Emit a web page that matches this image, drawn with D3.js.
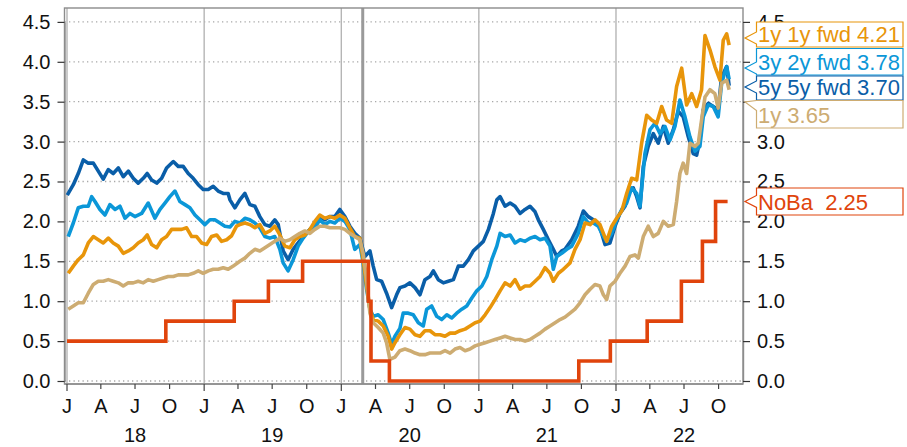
<!DOCTYPE html>
<html><head><meta charset="utf-8">
<script src="https://cdn.jsdelivr.net/npm/d3@7"></script>
<style>
html,body{margin:0;padding:0;background:#fff;}
svg{display:block;font-family:"Liberation Sans",Arial,sans-serif;}
</style></head>
<body><svg id="c" width="907" height="447"></svg>
<script>
// ---------- DATA (time in decimal years, value in %) ----------
const fwd55 = [[2018.002,2.33],[2018.046,2.46],[2018.082,2.60],[2018.119,2.77],[2018.155,2.73],[2018.192,2.73],[2018.228,2.63],[2018.264,2.53],[2018.301,2.65],[2018.337,2.60],[2018.374,2.67],[2018.410,2.56],[2018.447,2.63],[2018.483,2.54],[2018.519,2.48],[2018.556,2.54],[2018.585,2.60],[2018.617,2.52],[2018.654,2.48],[2018.690,2.54],[2018.726,2.67],[2018.775,2.75],[2018.811,2.69],[2018.847,2.69],[2018.884,2.60],[2018.920,2.54],[2018.957,2.46],[2018.993,2.40],[2019.030,2.40],[2019.066,2.44],[2019.102,2.38],[2019.139,2.35],[2019.175,2.35],[2019.188,2.27],[2019.224,2.17],[2019.260,2.27],[2019.297,2.35],[2019.333,2.21],[2019.370,2.19],[2019.406,2.06],[2019.443,1.96],[2019.479,1.94],[2019.515,2.02],[2019.540,1.96],[2019.576,1.63],[2019.612,1.52],[2019.649,1.65],[2019.685,1.73],[2019.722,1.81],[2019.771,1.90],[2019.807,1.94],[2019.843,2.06],[2019.880,2.02],[2019.916,2.06],[2019.953,2.06],[2019.989,2.15],[2020.026,2.06],[2020.062,1.94],[2020.098,1.85],[2020.135,1.79],[2020.171,1.56],[2020.208,1.63],[2020.232,1.44],[2020.257,1.27],[2020.293,1.25],[2020.329,1.10],[2020.366,0.92],[2020.402,1.08],[2020.426,1.17],[2020.463,1.19],[2020.499,1.23],[2020.536,1.17],[2020.572,1.08],[2020.608,1.27],[2020.645,1.31],[2020.669,1.38],[2020.705,1.27],[2020.742,1.23],[2020.778,1.25],[2020.815,1.27],[2020.851,1.44],[2020.887,1.44],[2020.924,1.52],[2020.960,1.63],[2020.997,1.69],[2021.033,1.75],[2021.070,1.90],[2021.106,2.10],[2021.131,2.27],[2021.155,2.31],[2021.191,2.19],[2021.228,2.23],[2021.264,2.19],[2021.301,2.10],[2021.337,2.15],[2021.373,2.19],[2021.410,2.12],[2021.434,2.02],[2021.470,1.90],[2021.507,1.77],[2021.543,1.65],[2021.568,1.56],[2021.604,1.63],[2021.628,1.65],[2021.677,1.77],[2021.725,1.94],[2021.762,2.13],[2021.798,2.06],[2021.835,2.02],[2021.871,1.98],[2021.896,1.85],[2021.920,1.71],[2021.956,1.73],[2021.993,1.94],[2022.029,2.10],[2022.066,2.19],[2022.102,2.40],[2022.126,2.42],[2022.151,2.31],[2022.175,2.17],[2022.199,2.69],[2022.235,2.94],[2022.272,3.10],[2022.308,2.98],[2022.345,3.19],[2022.381,2.98],[2022.418,3.15],[2022.454,3.38],[2022.490,3.31],[2022.527,3.06],[2022.563,2.85],[2022.588,2.83],[2022.612,3.02],[2022.636,3.40],[2022.673,3.48],[2022.709,3.44],[2022.745,3.40],[2022.770,3.81],[2022.807,3.94],[2022.825,3.70]];

const fwd32 = [[2018.009,1.81],[2018.046,1.98],[2018.082,2.17],[2018.119,2.19],[2018.155,2.19],[2018.180,2.31],[2018.204,2.25],[2018.240,2.15],[2018.277,2.08],[2018.313,2.21],[2018.350,2.15],[2018.386,2.19],[2018.423,2.04],[2018.459,2.10],[2018.495,2.06],[2018.544,2.10],[2018.592,2.23],[2018.641,2.04],[2018.678,2.15],[2018.714,2.23],[2018.750,2.31],[2018.787,2.38],[2018.823,2.25],[2018.860,2.21],[2018.896,2.17],[2018.933,2.08],[2018.969,2.02],[2019.005,1.96],[2019.042,2.02],[2019.078,2.02],[2019.115,1.98],[2019.151,1.94],[2019.188,1.93],[2019.224,2.00],[2019.260,1.98],[2019.297,2.04],[2019.333,2.02],[2019.370,1.98],[2019.406,1.92],[2019.443,1.81],[2019.479,1.79],[2019.515,1.81],[2019.552,1.65],[2019.576,1.48],[2019.612,1.38],[2019.649,1.52],[2019.685,1.69],[2019.722,1.79],[2019.771,1.90],[2019.807,1.92],[2019.843,2.02],[2019.880,1.96],[2019.916,2.00],[2019.953,1.98],[2019.989,2.04],[2020.026,2.00],[2020.062,1.90],[2020.098,1.65],[2020.135,1.71],[2020.159,1.48],[2020.184,1.15],[2020.208,0.90],[2020.232,0.81],[2020.268,0.83],[2020.305,0.77],[2020.341,0.60],[2020.366,0.46],[2020.390,0.56],[2020.426,0.66],[2020.450,0.85],[2020.487,0.85],[2020.523,0.83],[2020.560,0.73],[2020.596,0.69],[2020.621,0.90],[2020.657,0.94],[2020.694,0.81],[2020.730,0.77],[2020.767,0.83],[2020.803,0.79],[2020.839,0.85],[2020.876,0.90],[2020.912,0.94],[2020.949,1.04],[2020.985,1.13],[2021.022,1.19],[2021.058,1.31],[2021.094,1.52],[2021.131,1.69],[2021.155,1.85],[2021.191,1.81],[2021.228,1.83],[2021.264,1.73],[2021.301,1.77],[2021.337,1.75],[2021.373,1.79],[2021.410,1.81],[2021.446,1.77],[2021.483,1.79],[2021.519,1.69],[2021.543,1.40],[2021.568,1.56],[2021.604,1.60],[2021.641,1.65],[2021.677,1.69],[2021.725,1.85],[2021.762,2.06],[2021.798,1.98],[2021.835,1.98],[2021.871,1.94],[2021.908,1.81],[2021.932,1.75],[2021.969,1.85],[2022.005,2.02],[2022.042,2.15],[2022.078,2.23],[2022.114,2.42],[2022.151,2.35],[2022.175,2.19],[2022.211,2.85],[2022.248,3.15],[2022.284,3.23],[2022.321,3.10],[2022.357,3.19],[2022.394,3.02],[2022.430,3.19],[2022.466,3.52],[2022.503,3.31],[2022.539,3.06],[2022.576,2.88],[2022.612,2.94],[2022.636,3.31],[2022.673,3.46],[2022.709,3.44],[2022.745,3.31],[2022.770,3.73],[2022.807,3.94],[2022.825,3.78]];

const fwd11 = [[2018.009,1.35],[2018.046,1.44],[2018.082,1.52],[2018.119,1.58],[2018.155,1.73],[2018.192,1.81],[2018.228,1.77],[2018.264,1.73],[2018.301,1.79],[2018.337,1.73],[2018.374,1.69],[2018.410,1.60],[2018.447,1.63],[2018.483,1.67],[2018.519,1.73],[2018.556,1.77],[2018.585,1.83],[2018.617,1.71],[2018.654,1.67],[2018.690,1.77],[2018.726,1.81],[2018.763,1.90],[2018.799,1.90],[2018.836,1.90],[2018.872,1.92],[2018.909,1.81],[2018.945,1.81],[2018.981,1.73],[2019.018,1.71],[2019.054,1.81],[2019.091,1.83],[2019.127,1.75],[2019.164,1.77],[2019.200,1.82],[2019.236,1.94],[2019.260,1.96],[2019.297,1.98],[2019.333,1.96],[2019.370,1.92],[2019.406,1.96],[2019.443,1.85],[2019.479,1.88],[2019.515,1.94],[2019.552,1.83],[2019.588,1.69],[2019.625,1.67],[2019.661,1.77],[2019.698,1.81],[2019.734,1.83],[2019.771,1.90],[2019.807,2.00],[2019.843,2.08],[2019.880,2.04],[2019.916,2.06],[2019.953,2.04],[2019.989,2.08],[2020.026,2.04],[2020.062,1.92],[2020.098,1.81],[2020.135,1.79],[2020.159,1.52],[2020.184,1.19],[2020.208,0.90],[2020.232,0.77],[2020.268,0.75],[2020.305,0.69],[2020.341,0.56],[2020.366,0.40],[2020.390,0.48],[2020.426,0.58],[2020.463,0.67],[2020.499,0.65],[2020.536,0.58],[2020.572,0.56],[2020.608,0.63],[2020.645,0.63],[2020.681,0.58],[2020.718,0.58],[2020.754,0.56],[2020.791,0.60],[2020.827,0.60],[2020.863,0.63],[2020.900,0.65],[2020.936,0.69],[2020.973,0.73],[2021.009,0.75],[2021.046,0.83],[2021.082,0.92],[2021.118,1.02],[2021.155,1.13],[2021.191,1.23],[2021.228,1.19],[2021.264,1.27],[2021.301,1.15],[2021.337,1.19],[2021.373,1.19],[2021.410,1.25],[2021.446,1.31],[2021.483,1.42],[2021.519,1.35],[2021.543,1.25],[2021.580,1.35],[2021.616,1.40],[2021.628,1.42],[2021.665,1.48],[2021.701,1.65],[2021.738,1.77],[2021.774,1.98],[2021.811,1.96],[2021.847,2.02],[2021.883,1.96],[2021.908,1.85],[2021.932,1.75],[2021.969,1.94],[2022.005,2.04],[2022.042,2.13],[2022.078,2.35],[2022.114,2.54],[2022.151,2.52],[2022.187,2.98],[2022.224,3.33],[2022.260,3.27],[2022.297,3.23],[2022.333,3.44],[2022.369,3.27],[2022.406,3.23],[2022.442,3.69],[2022.479,3.92],[2022.515,3.46],[2022.552,3.60],[2022.588,3.44],[2022.624,3.65],[2022.649,4.33],[2022.685,4.15],[2022.721,3.94],[2022.758,3.77],[2022.782,4.27],[2022.807,4.35],[2022.825,4.21]];

const rate1y = [[2018.009,0.90],[2018.046,0.94],[2018.082,0.98],[2018.119,0.98],[2018.155,1.10],[2018.192,1.21],[2018.228,1.25],[2018.264,1.25],[2018.301,1.27],[2018.337,1.25],[2018.374,1.23],[2018.410,1.19],[2018.447,1.23],[2018.483,1.23],[2018.519,1.25],[2018.556,1.23],[2018.592,1.27],[2018.629,1.25],[2018.665,1.27],[2018.702,1.29],[2018.738,1.31],[2018.775,1.31],[2018.811,1.33],[2018.847,1.33],[2018.884,1.33],[2018.920,1.35],[2018.957,1.38],[2018.993,1.35],[2019.030,1.38],[2019.066,1.40],[2019.102,1.40],[2019.139,1.42],[2019.175,1.40],[2019.212,1.44],[2019.260,1.50],[2019.297,1.54],[2019.333,1.60],[2019.370,1.65],[2019.406,1.63],[2019.443,1.67],[2019.479,1.71],[2019.515,1.75],[2019.552,1.79],[2019.588,1.75],[2019.625,1.77],[2019.661,1.81],[2019.698,1.85],[2019.734,1.88],[2019.771,1.85],[2019.807,1.90],[2019.843,1.94],[2019.880,1.94],[2019.916,1.92],[2019.953,1.92],[2019.989,1.92],[2020.026,1.90],[2020.062,1.85],[2020.098,1.81],[2020.135,1.77],[2020.159,1.60],[2020.184,1.27],[2020.208,0.85],[2020.232,0.73],[2020.268,0.67],[2020.305,0.60],[2020.329,0.48],[2020.353,0.27],[2020.390,0.30],[2020.426,0.38],[2020.463,0.40],[2020.499,0.38],[2020.536,0.35],[2020.572,0.33],[2020.608,0.33],[2020.645,0.35],[2020.681,0.35],[2020.718,0.35],[2020.754,0.38],[2020.791,0.35],[2020.827,0.40],[2020.863,0.42],[2020.900,0.38],[2020.936,0.40],[2020.973,0.44],[2021.009,0.46],[2021.046,0.48],[2021.082,0.50],[2021.118,0.52],[2021.155,0.54],[2021.191,0.56],[2021.228,0.54],[2021.264,0.52],[2021.301,0.52],[2021.337,0.50],[2021.373,0.52],[2021.410,0.56],[2021.446,0.60],[2021.483,0.65],[2021.519,0.69],[2021.556,0.73],[2021.592,0.77],[2021.628,0.80],[2021.665,0.85],[2021.701,0.90],[2021.738,0.98],[2021.774,1.08],[2021.811,1.15],[2021.847,1.21],[2021.883,1.19],[2021.908,1.08],[2021.932,1.02],[2021.956,1.19],[2021.993,1.25],[2022.029,1.35],[2022.066,1.44],[2022.102,1.56],[2022.138,1.58],[2022.163,1.54],[2022.199,1.81],[2022.235,1.94],[2022.272,1.81],[2022.308,1.85],[2022.345,2.00],[2022.381,1.94],[2022.418,1.96],[2022.442,2.25],[2022.466,2.60],[2022.490,2.73],[2022.515,2.60],[2022.539,2.98],[2022.576,2.94],[2022.600,2.98],[2022.624,3.27],[2022.649,3.56],[2022.685,3.65],[2022.721,3.60],[2022.745,3.42],[2022.770,3.73],[2022.807,3.77],[2022.825,3.65]];

const policyDates  = ["2018-01-01","2018-09-21","2019-03-22","2019-06-21","2019-09-20","2020-03-13","2020-03-20","2020-05-08","2021-09-24","2021-12-17","2022-03-25","2022-06-24","2022-08-19","2022-09-23","2022-10-25"];
const policyValues = [0.50,0.75,1.00,1.25,1.50,1.00,0.25,0.00,0.25,0.50,0.75,1.25,1.75,2.25,2.25];

const yTicks = [0,0.5,1,1.5,2,2.5,3,3.5,4,4.5];
const rightTicks = [0,0.5,1,1.5,2,2.5,3,4.5];   // 3.5 and 4.0 sit under the label boxes
const monthLabels = ["J","A","J","O"];
const yearLabels = ["18","19","20","21","22"];
const yearStarts = ["2018-01-01","2019-01-01","2020-01-01","2021-01-01","2022-01-01"];
const markerDate = "2020-02-27";

const seriesNames = ["5y 5y fwd","3y 2y fwd","1y 1y fwd","1y","NoBa"];
const lastValues  = [3.70,3.78,4.21,3.65,2.25];

// ---------- helpers ----------
const parse = d3.timeParse("%Y-%m-%d");
function dy(t){const y=Math.floor(t);const s=new Date(y,0,1),e=new Date(y+1,0,1);return new Date(+s+(t-y)*(e-s));}

const L=64.5,R=743,T=8,B=384;
const svg=d3.select("#c");
const x=d3.scaleTime().domain([new Date(2017,11,25,8),new Date(2022,11,5)]).range([L,R]);
const y=d3.scaleLinear().domain([0,4.5]).range([381,21.9]);

const colors={fwd55:"#0a5ea8",fwd32:"#0b97d8",fwd11:"#e8950a",rate1y:"#cdac72",policy:"#e0440c"};
const FS=20;

// gridlines
svg.append("g").selectAll("line").data(yTicks).join("line")
  .attr("x1",L).attr("x2",R).attr("y1",d=>y(d)).attr("y2",d=>y(d))
  .attr("stroke","#a8a8a8").attr("stroke-width",1.3).attr("stroke-dasharray","1.3,3.2");
svg.append("g").selectAll("line").data(yearStarts).join("line")
  .attr("x1",d=>x(parse(d))).attr("x2",d=>x(parse(d))).attr("y1",T).attr("y2",B)
  .attr("stroke","#b5b5b5").attr("stroke-width",1.4);
svg.append("line").attr("x1",x(parse(markerDate))).attr("x2",x(parse(markerDate)))
  .attr("y1",T).attr("y2",B).attr("stroke","#9a9a9a").attr("stroke-width",3);

// frame
svg.append("rect").attr("x",L).attr("y",T).attr("width",R-L).attr("height",B-T)
  .attr("fill","none").attr("stroke","#8c8c8c").attr("stroke-width",1.4);

// lines
const line=d3.line().x(d=>x(dy(d[0]))).y(d=>y(d[1]));
const plotG=svg.append("g");
[["fwd55",fwd55],["fwd32",fwd32],["fwd11",fwd11],["rate1y",rate1y]].forEach(([k,data])=>{
  plotG.append("path").datum(data).attr("d",line).attr("fill","none")
    .attr("stroke",colors[k]).attr("stroke-width",3.6).attr("stroke-linejoin","round");
});
const pol=policyDates.map((d,i)=>[parse(d),policyValues[i]]);
plotG.append("path").datum(pol)
  .attr("d",d3.line().x(d=>x(d[0])).y(d=>y(d[1])).curve(d3.curveStepAfter))
  .attr("fill","none").attr("stroke",colors.policy).attr("stroke-width",3.6);

// y axes
const ax=svg.append("g").attr("transform",`translate(${L},0)`)
  .call(d3.axisLeft(y).tickValues(yTicks).tickFormat(d3.format(".1f")).tickSize(7).tickPadding(7).tickSizeOuter(0));
const ax2=svg.append("g").attr("transform",`translate(${R},0)`)
  .call(d3.axisRight(y).tickValues(yTicks).tickFormat(d3.format(".1f")).tickSize(7).tickPadding(7).tickSizeOuter(0));
ax2.selectAll(".tick text").filter(d=>!rightTicks.includes(d)).remove();
[ax,ax2].forEach(g=>{
  g.select(".domain").attr("stroke","#8c8c8c").attr("stroke-width",1.4);
  g.selectAll(".tick line").attr("stroke","#333").attr("stroke-width",1.2);
  g.selectAll("text").attr("font-size",FS).attr("fill","#111").attr("font-family","Liberation Sans, Arial, sans-serif");
});

// x axis
const qTicks=d3.timeMonth.every(3).range(parse("2018-01-01"),parse("2022-10-02"));
const xg=svg.append("g");
xg.append("line").attr("x1",L).attr("x2",R).attr("y1",B).attr("y2",B).attr("stroke","#8c8c8c").attr("stroke-width",1.4);
xg.selectAll("line.t").data(qTicks).join("line").attr("class","t")
  .attr("x1",d=>x(d)).attr("x2",d=>x(d)).attr("y1",B).attr("y2",d=>d.getMonth()===0?B+7:B+5)
  .attr("stroke","#444").attr("stroke-width",1.2);
xg.selectAll("text.m").data(qTicks).join("text").attr("class","m")
  .attr("x",d=>x(d)).attr("y",413).attr("text-anchor","middle").attr("font-size",FS).attr("fill","#111")
  .text(d=>monthLabels[d.getMonth()/3]);
xg.selectAll("text.yr").data(yearLabels).join("text").attr("class","yr")
  .attr("x",(d,i)=>x(new Date(2018+i,6,1))).attr("y",442).attr("text-anchor","middle")
  .attr("font-size",FS).attr("fill","#111").text(d=>d);

// callout labels
const boxes=[
  {i:2,c:colors.fwd11,top:22,bot:47,tip:38},
  {i:1,c:colors.fwd32,top:48.5,bot:75,tip:68},
  {i:0,c:colors.fwd55,top:76,bot:100,tip:87},
  {i:3,c:colors.rate1y,top:100.5,bot:128,tip:102},
  {i:4,c:colors.policy,top:188,bot:215,tip:y(lastValues[4])}
];
const bx0=756.5,bx1=903,tipX=745;
const lg=svg.append("g");
boxes.forEach(b=>{
  const a=Math.max(b.top,b.tip-6), c=Math.min(b.bot,b.tip+6);
  const a2=Math.max(b.top,Math.min(a,c-10)), c2=Math.max(c,a2+10);
  lg.append("path")
    .attr("d",`M${bx0},${b.top}H${bx1}V${b.bot}H${bx0}V${c2}L${tipX},${b.tip}L${bx0},${a2}Z`)
    .attr("fill","#fff").attr("stroke",b.c).attr("stroke-width",1.2);
  const label = b.i===4 ? seriesNames[b.i]+"  "+lastValues[b.i].toFixed(2) : seriesNames[b.i]+" "+lastValues[b.i].toFixed(2);
  lg.append("text").attr("x",bx0+1.5).attr("y",b.bot-5).attr("font-size",22).attr("fill",b.c)
    .style("white-space","pre").text(label);
});
</script></body></html>
